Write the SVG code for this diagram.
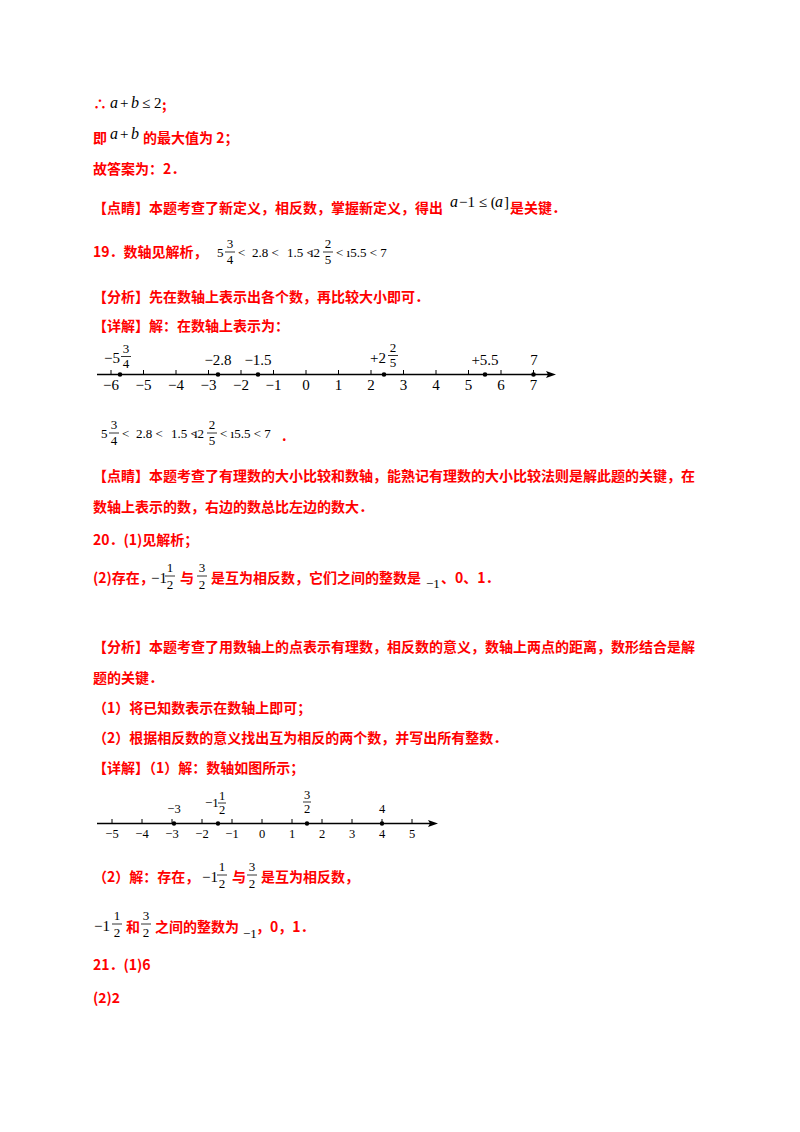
<svg xmlns="http://www.w3.org/2000/svg" width="800" height="1132" viewBox="0 0 800 1132">
<style>
.r{font-family:"Noto Sans CJK SC","Noto Sans",sans-serif;font-size:14px;font-weight:bold;fill:#ff0000}
.m{font-family:"Liberation Serif",serif;font-size:15px;fill:#000}
.mi{font-family:"Liberation Serif",serif;font-size:16px;font-style:italic;fill:#000}
.s{font-family:"Liberation Serif",serif;font-size:13px;fill:#000;text-anchor:middle}
.q{font-family:"Liberation Serif",serif;font-size:13px;fill:#000}
.fl{stroke:#000;stroke-width:0.8}
.ax{stroke:#000;stroke-width:1.5}
.tk{stroke:#000;stroke-width:1}
.t{font-family:"Liberation Serif",serif;font-size:15px;fill:#000;text-anchor:middle}
.t2{font-family:"Liberation Serif",serif;font-size:12.5px;fill:#000;text-anchor:middle}
</style>
<rect width="800" height="1132" fill="#fff"/>
<text x="93" y="109" class="r">∴</text><text x="110" y="108" class="mi">a</text><text x="120" y="108" class="m">+</text><text x="131" y="108" class="mi">b</text><text x="142" y="108" class="m">≤ 2</text><text x="162" y="110" class="r">;</text>
<text x="93" y="143" class="r">即</text><text x="110" y="139" class="mi">a</text><text x="120" y="139" class="m">+</text><text x="131" y="139" class="mi">b</text><text x="143" y="143" class="r">的最大值为 2；</text>
<text x="93" y="174" class="r">故答案为：2．</text>
<text x="93" y="213" class="r">【点睛】本题考查了新定义，相反数，掌握新定义，得出</text>
<text x="450" y="207" class="mi">a</text><text x="459" y="207" class="m">−1 ≤ (</text><text x="495" y="207" class="mi">a</text><text x="504" y="207" class="m">]</text><text x="510" y="213" class="r">是关键．</text>
<text x="93" y="257" class="r">19．数轴见解析，</text>
<g id="ineq1">
<text x="217" y="257" class="q">5</text><text x="230" y="248" class="s">3</text><line x1="225" y1="252" x2="235" y2="252" class="fl"/><text x="230" y="264" class="s">4</text>
<text x="238" y="257" class="q">&lt;</text><text x="252" y="257" class="q">2.8 &lt;</text><text x="287" y="257" class="q">1.5 &lt;</text><text x="310" y="257" class="q">ı2</text><text x="328" y="248" class="s">2</text><line x1="323" y1="252" x2="333" y2="252" class="fl"/><text x="328" y="264" class="s">5</text><text x="336" y="257" class="q">&lt; ı5.5 &lt; 7</text>
</g>
<text x="93" y="302" class="r">【分析】先在数轴上表示出各个数，再比较大小即可．</text>
<text x="93" y="331" class="r">【详解】解：在数轴上表示为：</text>
<g id="numberline1">
<line x1="97" y1="374.5" x2="550" y2="374.5" class="ax"/>
<path d="M556 374.5 L546 371 L548 374.5 L546 378 Z" fill="#000"/>
<g class="tk">
<line x1="111" y1="370" x2="111" y2="374.5"/><line x1="143.5" y1="370" x2="143.5" y2="374.5"/><line x1="176" y1="370" x2="176" y2="374.5"/><line x1="208.5" y1="370" x2="208.5" y2="374.5"/><line x1="241" y1="370" x2="241" y2="374.5"/><line x1="273.5" y1="370" x2="273.5" y2="374.5"/><line x1="306" y1="370" x2="306" y2="374.5"/><line x1="338.5" y1="370" x2="338.5" y2="374.5"/><line x1="371" y1="370" x2="371" y2="374.5"/><line x1="403.5" y1="370" x2="403.5" y2="374.5"/><line x1="436" y1="370" x2="436" y2="374.5"/><line x1="468.5" y1="370" x2="468.5" y2="374.5"/><line x1="501" y1="370" x2="501" y2="374.5"/><line x1="533.5" y1="370" x2="533.5" y2="374.5"/>
</g>
<g class="t">
<text x="111" y="390">−6</text><text x="143.5" y="390">−5</text><text x="176" y="390">−4</text><text x="208.5" y="390">−3</text><text x="241" y="390">−2</text><text x="273.5" y="390">−1</text><text x="306" y="390">0</text><text x="338.5" y="390">1</text><text x="371" y="390">2</text><text x="403.5" y="390">3</text><text x="436" y="390">4</text><text x="468.5" y="390">5</text><text x="501" y="390">6</text><text x="533.5" y="390">7</text>
</g>
<g fill="#000"><circle cx="120" cy="374.5" r="2.3"/><circle cx="218" cy="374.5" r="2.3"/><circle cx="258" cy="374.5" r="2.3"/><circle cx="384" cy="374.5" r="2.3"/><circle cx="485" cy="374.5" r="2.3"/><circle cx="533.5" cy="374.5" r="2.3"/></g>
<text x="104" y="363" class="m">−5</text><text x="126" y="353" class="s">3</text><line x1="121" y1="356.5" x2="131" y2="356.5" class="fl"/><text x="126" y="368" class="s">4</text>
<text x="218" y="365" class="t">−2.8</text><text x="258" y="365" class="t">−1.5</text>
<text x="370" y="363" class="m">+2</text><text x="393" y="352" class="s">2</text><line x1="388" y1="355.5" x2="398" y2="355.5" class="fl"/><text x="393" y="367" class="s">5</text>
<text x="485" y="365" class="t">+5.5</text><text x="534" y="365" class="t">7</text>
</g>
<g id="ineq2">
<text x="101" y="438" class="q">5</text><text x="114" y="429" class="s">3</text><line x1="109" y1="433" x2="119" y2="433" class="fl"/><text x="114" y="445" class="s">4</text>
<text x="122" y="438" class="q">&lt;</text><text x="136" y="438" class="q">2.8 &lt;</text><text x="171" y="438" class="q">1.5 &lt;</text><text x="194" y="438" class="q">ı2</text><text x="212" y="429" class="s">2</text><line x1="207" y1="433" x2="217" y2="433" class="fl"/><text x="212" y="445" class="s">5</text><text x="220" y="438" class="q">&lt; ı5.5 &lt; 7</text><text x="282" y="441" class="r">.</text>
</g>
<text x="93" y="481" class="r">【点睛】本题考查了有理数的大小比较和数轴，能熟记有理数的大小比较法则是解此题的关键，在</text>
<text x="93" y="512" class="r">数轴上表示的数，右边的数总比左边的数大．</text>
<text x="93" y="545" class="r">20．(1)见解析；</text>
<text x="93" y="583" class="r">(2)存在，</text>
<text x="151" y="583" class="m">−1</text><text x="170" y="572" class="s">1</text><line x1="165" y1="576" x2="175" y2="576" class="fl"/><text x="170" y="589" class="s">2</text>
<text x="180" y="583" class="r">与</text>
<text x="202" y="572" class="s">3</text><line x1="197" y1="576" x2="207" y2="576" class="fl"/><text x="202" y="589" class="s">2</text>
<text x="211" y="583" class="r">是互为相反数，它们之间的整数是</text><text x="426" y="588" class="q" font-size="12">−1</text><text x="441" y="583" class="r">、0、1．</text>
<text x="93" y="652" class="r">【分析】本题考查了用数轴上的点表示有理数，相反数的意义，数轴上两点的距离，数形结合是解</text>
<text x="93" y="683" class="r">题的关键．</text>
<text x="93" y="713" class="r">（1）将已知数表示在数轴上即可；</text>
<text x="93" y="743" class="r">（2）根据相反数的意义找出互为相反的两个数，并写出所有整数．</text>
<text x="93" y="773" class="r">【详解】（1）解：数轴如图所示；</text>
<g id="numberline2">
<line x1="97" y1="823.5" x2="432" y2="823.5" class="ax"/>
<path d="M438 823.5 L428 820 L430 823.5 L428 827 Z" fill="#000"/>
<g class="tk">
<line x1="112" y1="819" x2="112" y2="823.5"/><line x1="142" y1="819" x2="142" y2="823.5"/><line x1="172" y1="819" x2="172" y2="823.5"/><line x1="202" y1="819" x2="202" y2="823.5"/><line x1="232" y1="819" x2="232" y2="823.5"/><line x1="262" y1="819" x2="262" y2="823.5"/><line x1="292" y1="819" x2="292" y2="823.5"/><line x1="322" y1="819" x2="322" y2="823.5"/><line x1="352" y1="819" x2="352" y2="823.5"/><line x1="382" y1="819" x2="382" y2="823.5"/><line x1="412" y1="819" x2="412" y2="823.5"/>
</g>
<g class="t2">
<text x="112" y="838">−5</text><text x="142" y="838">−4</text><text x="172" y="838">−3</text><text x="202" y="838">−2</text><text x="232" y="838">−1</text><text x="262" y="838">0</text><text x="292" y="838">1</text><text x="322" y="838">2</text><text x="352" y="838">3</text><text x="382" y="838">4</text><text x="412" y="838">5</text>
</g>
<g fill="#000"><circle cx="174" cy="823.5" r="2.2"/><circle cx="218" cy="823.5" r="2.2"/><circle cx="307" cy="823.5" r="2.2"/><circle cx="382" cy="823.5" r="2.2"/></g>
<text x="174" y="813" class="t2">−3</text>
<text x="205" y="807" class="q" font-size="12">−1</text><text x="222" y="800" class="t2">1</text><line x1="218" y1="803" x2="226" y2="803" class="fl"/><text x="222" y="814" class="t2">2</text>
<text x="307" y="799" class="t2">3</text><line x1="303" y1="802" x2="311" y2="802" class="fl"/><text x="307" y="813" class="t2">2</text>
<text x="382" y="813" class="t2">4</text>
</g>
<text x="93" y="882" class="r">（2）解：存在，</text>
<text x="202" y="882" class="m">−1</text><text x="222" y="871" class="s">1</text><line x1="217" y1="875" x2="227" y2="875" class="fl"/><text x="222" y="888" class="s">2</text>
<text x="232" y="882" class="r">与</text>
<text x="252" y="871" class="s">3</text><line x1="247" y1="875" x2="257" y2="875" class="fl"/><text x="252" y="888" class="s">2</text>
<text x="261" y="882" class="r">是互为相反数，</text>
<text x="94" y="931" class="m">−1</text><text x="117" y="920" class="s">1</text><line x1="112" y1="924" x2="122" y2="924" class="fl"/><text x="117" y="937" class="s">2</text>
<text x="126" y="932" class="r">和</text>
<text x="146" y="920" class="s">3</text><line x1="141" y1="924" x2="151" y2="924" class="fl"/><text x="146" y="937" class="s">2</text>
<text x="155" y="932" class="r">之间的整数为</text><text x="243" y="938" class="q" font-size="12">−1</text><text x="256" y="932" class="r">，0，1．</text>
<text x="93" y="970" class="r">21．(1)6</text>
<text x="93" y="1003" class="r">(2)2</text>
</svg>
